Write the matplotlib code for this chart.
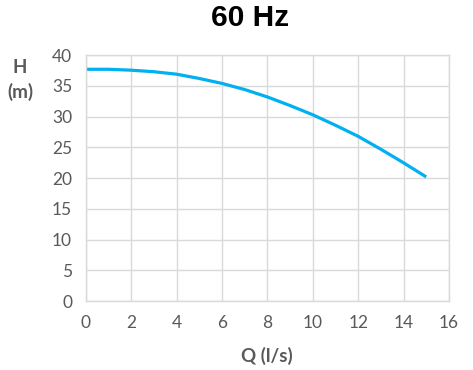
import numpy as np
import matplotlib
matplotlib.use("Agg")
import matplotlib.pyplot as plt

# pump curve
q = [0, 1, 2, 3, 4, 5, 6, 7, 8, 9, 10, 11, 12, 13, 14, 15]
h = [37.7, 37.7, 37.55, 37.3, 36.9, 36.2, 35.4, 34.4, 33.2, 31.8, 30.3, 28.6, 26.8, 24.7, 22.5, 20.2]

x_ticks = [0, 2, 4, 6, 8, 10, 12, 14, 16]
y_ticks = [0, 5, 10, 15, 20, 25, 30, 35, 40]

grey = '#595959'
grid_c = '#D9D9D9'

fig = plt.figure(figsize=(4.73, 3.70), dpi=100)
ax = fig.add_axes([0.1818, 0.186, 0.949 - 0.1818, 0.851 - 0.186])

ax.plot(q, h, color='#00B0F0', linewidth=2.3, solid_capstyle='butt')

ax.set_xlim(0, 16)
ax.set_ylim(0, 40)
ax.set_xticks(x_ticks)
ax.set_yticks(y_ticks)
ax.grid(True, color=grid_c, linewidth=1.0)
ax.set_axisbelow(True)
for s in ax.spines.values():
    s.set_color(grid_c)
    s.set_linewidth(1.0)
ax.tick_params(length=0, pad=10, labelsize=12.5, labelcolor=grey)
for lab in ax.get_xticklabels() + ax.get_yticklabels():
    lab.set_fontfamily('Lato')

fig.text(250 / 473, 1 - 18 / 370, '60 Hz', ha='center', va='center',
         fontsize=21.5, fontweight='bold', family='Liberation Sans')
fig.text(267 / 473, 1 - 356 / 370, 'Q (l/s)', ha='center', va='center',
         fontsize=13.5, fontweight='bold', color=grey, family='Lato')
fig.text(20 / 473, 1 - 80 / 370, 'H\n(m)', ha='center', va='center',
         fontsize=13.5, fontweight='bold', color=grey, family='Lato', linespacing=1.45)

fig.savefig('out.png', dpi=100)
